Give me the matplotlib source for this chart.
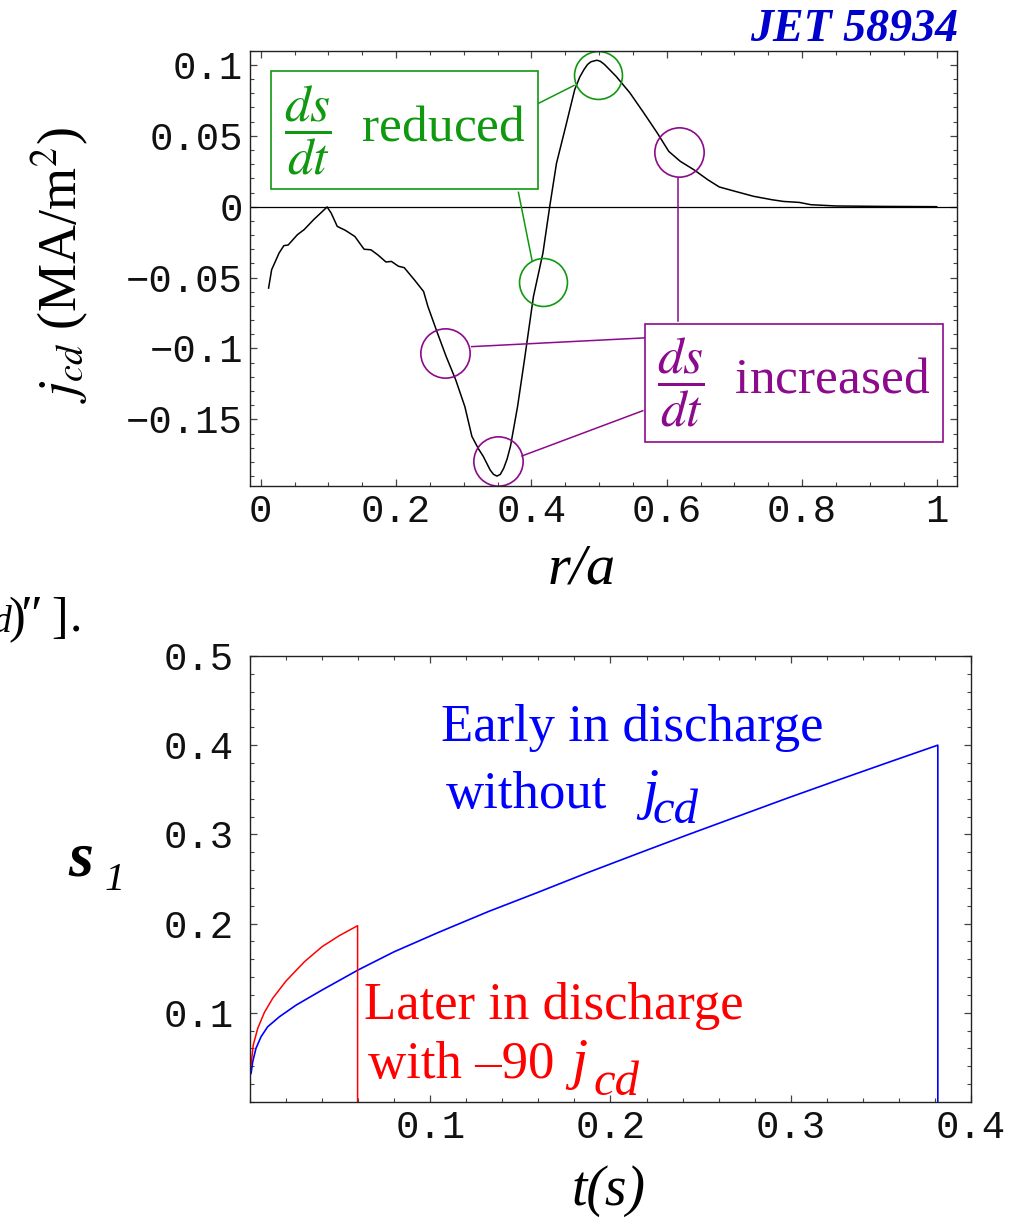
import numpy as np
import matplotlib
matplotlib.use("Agg")
import matplotlib.pyplot as plt
from matplotlib.ticker import FixedLocator, MultipleLocator

plt.rcParams['mathtext.fontset'] = 'stix'
plt.rcParams['font.family'] = ['Liberation Serif', 'DejaVu Serif']

# ---- top panel: j_cd profile vs r/a (JET 58934) ----
r_a = [0.0115, 0.016, 0.027, 0.034, 0.0405, 0.054, 0.064, 0.078, 0.098, 0.104,
       0.113, 0.125, 0.139, 0.1526, 0.1627, 0.173, 0.185, 0.193, 0.2034, 0.212,
       0.227, 0.2406, 0.247, 0.261, 0.274, 0.288, 0.3016, 0.312, 0.322, 0.3287,
       0.339, 0.344, 0.349, 0.354, 0.359, 0.364, 0.369, 0.3795, 0.3897, 0.403,
       0.417, 0.427, 0.437, 0.4507, 0.464, 0.4715, 0.4778, 0.483, 0.488, 0.4968,
       0.502, 0.508, 0.525, 0.5455, 0.566, 0.586, 0.603, 0.620, 0.640, 0.6607,
       0.6777, 0.7013, 0.7285, 0.7556, 0.7725, 0.796, 0.813, 0.850, 0.918, 0.999]
j_cd = [-0.0574, -0.0445, -0.0327, -0.0275, -0.027, -0.0198, -0.0162, -0.0092, -0.0002, -0.0045,
        -0.0139, -0.0167, -0.021, -0.030, -0.0304, -0.034, -0.039, -0.0386, -0.042, -0.043,
        -0.0516, -0.0598, -0.0704, -0.089, -0.1057, -0.122, -0.141, -0.162, -0.171, -0.176,
        -0.1857, -0.1888, -0.190, -0.1888, -0.1845, -0.178, -0.169, -0.141, -0.108, -0.0633,
        -0.0327, 0.0, 0.0305, 0.0567, 0.0826, 0.0915, 0.0968, 0.1003, 0.1022, 0.1033,
        0.1025, 0.1003, 0.092, 0.0803, 0.0662, 0.052, 0.039, 0.032, 0.0261, 0.019,
        0.0139, 0.0108, 0.0073, 0.0049, 0.0037, 0.003, 0.0014, 0.0005, 0.0002, 0.0]

top_xticks = [0, 0.2, 0.4, 0.6, 0.8, 1.0]
top_xlabels = ['0', '0.2', '0.4', '0.6', '0.8', '1']
top_yticks = [-0.15, -0.1, -0.05, 0, 0.05, 0.1]
top_ylabels = ['\u22120.15', '\u22120.1', '\u22120.05', '0', '0.05', '0.1']

# annotation circles (r/a, j_cd)
green_circles_x = [0.498, 0.4174]
green_circles_y = [0.0932, -0.053]
purple_circles_x = [0.6186, 0.2724, 0.3511]
purple_circles_y = [0.0383, -0.1033, -0.1794]

# ---- bottom panel: s1 vs t ----
t_early = [0.0006, 0.0015, 0.0033, 0.0061, 0.0098, 0.0163, 0.0256, 0.040, 0.060, 0.080,
           0.1047, 0.1323, 0.1599, 0.1875, 0.2152, 0.2428, 0.2704, 0.298, 0.3256, 0.3536,
           0.3816, 0.3816]
s1_early = [0.032, 0.045, 0.060, 0.073, 0.0843, 0.0955, 0.1086, 0.1255, 0.148, 0.1684,
            0.1902, 0.2135, 0.2351, 0.2572, 0.2785, 0.2995, 0.320, 0.3405, 0.3604, 0.3803,
            0.400, 0.0]
t_late = [0.0006, 0.0018, 0.0043, 0.0080, 0.0126, 0.020, 0.0302, 0.040, 0.0496, 0.0597,
          0.0597]
s1_late = [0.0413, 0.0637, 0.0825, 0.1004, 0.1162, 0.1356, 0.1572, 0.1741, 0.1865, 0.1976,
           0.0]

bot_xticks = [0.1, 0.2, 0.3, 0.4]
bot_xlabels = ['0.1', '0.2', '0.3', '0.4']
bot_yticks = [0.1, 0.2, 0.3, 0.4, 0.5]
bot_ylabels = ['0.1', '0.2', '0.3', '0.4', '0.5']

GREEN = '#109810'
PURPLE = '#8c0a8c'
mono = ['Liberation Mono', 'DejaVu Sans Mono']


def style_axes(ax, pad_x, pad_y):
    ax.tick_params(which='both', direction='in', top=True, right=True, color='#444444')
    ax.tick_params(which='major', length=5, width=0.9)
    ax.tick_params(which='minor', length=2.8, width=0.8)
    ax.tick_params(axis='x', pad=pad_x)
    ax.tick_params(axis='y', pad=pad_y)
    for s in ax.spines.values():
        s.set_linewidth(1.0)
        s.set_color('#222222')
    for lab in ax.get_xticklabels() + ax.get_yticklabels():
        lab.set_family(mono)
        lab.set_fontsize(28)
        lab.set_color('#111111')


fig = plt.figure(figsize=(10.3, 12.19), dpi=100)

# top
ax1 = fig.add_axes([0.2427, 0.6013, 0.6864, 0.3571])
ax1.plot(r_a, j_cd, color='black', lw=1.1)
ax1.axhline(0, color='black', lw=0.9)
ax1.set_xlim(-0.016, 1.029)
ax1.set_ylim(-0.197, 0.110)
ax1.xaxis.set_major_locator(FixedLocator(top_xticks))
ax1.set_xticklabels(top_xlabels)
ax1.xaxis.set_minor_locator(MultipleLocator(0.05))
ax1.yaxis.set_major_locator(FixedLocator(top_yticks))
ax1.set_yticklabels(top_ylabels)
ax1.yaxis.set_minor_locator(MultipleLocator(0.01))
style_axes(ax1, 6, 5)

ax1.plot(green_circles_x, green_circles_y, 'o', ms=34.5, mfc='none', mec=GREEN, mew=1.2, ls='none')
ax1.plot(purple_circles_x, purple_circles_y, 'o', ms=35.5, mfc='none', mec=PURPLE, mew=1.2, ls='none')

# connector lines
ax1.plot([0.4068, 0.463], [0.0720, 0.0855], color=GREEN, lw=1.1)
ax1.plot([0.3808, 0.4012], [0.0101, -0.0386], color=GREEN, lw=1.1)
ax1.plot([0.6172, 0.6172], [0.0203, -0.0803], color=PURPLE, lw=1.1)
ax1.plot([0.3117, 0.5685], [-0.0987, -0.0925], color=PURPLE, lw=1.1)
ax1.plot([0.3861, 0.5646], [-0.1758, -0.1439], color=PURPLE, lw=1.1)

ax1.text(0.034, 0.054, r'$\dfrac{ds}{dt}$  reduced', color=GREEN, fontsize=37,
         ha='left', va='center',
         bbox=dict(boxstyle='square,pad=0.24', fc='white', ec=GREEN, lw=1.2))
ax1.text(0.586, -0.1243, r'$\dfrac{ds}{dt}$  increased', color=PURPLE, fontsize=37,
         ha='left', va='center',
         bbox=dict(boxstyle='square,pad=0.24', fc='white', ec=PURPLE, lw=1.2))

fig.text(958 / 1030, 1 - 41 / 1219, 'JET 58934', color='#0000cc', fontsize=33,
         fontweight='bold', fontstyle='italic', ha='right', va='baseline')
fig.text(60 / 1030, 1 - 265 / 1219, r'$j_{cd}$ (MA/m$^2$)', fontsize=39,
         rotation=90, ha='center', va='center')
fig.text(582 / 1030, 1 - 583 / 1219, 'r/a', fontsize=42, fontstyle='italic',
         ha='center', va='baseline')

# clipped fragment of page text
fy = 1 - 632 / 1219
fig.text(-7 / 1030, fy, 'd', fontsize=27, fontstyle='italic', va='baseline')
fig.text(8 / 1030, fy, ')', fontsize=36, va='baseline')
fig.text(20 / 1030, fy, '\u2033', fontsize=38, va='baseline')
fig.text(51 / 1030, fy, ']', fontsize=36, va='baseline')
fig.text(70 / 1030, fy, '.', fontsize=36, va='baseline')

# bottom
ax2 = fig.add_axes([0.2427, 0.0960, 0.7000, 0.3659])
ax2.plot(t_early, s1_early, color='#0000ff', lw=1.2)
ax2.plot(t_late, s1_late, color='#ff0000', lw=1.1)
ax2.set_xlim(0, 0.4)
ax2.set_ylim(0, 0.5)
ax2.xaxis.set_major_locator(FixedLocator(bot_xticks))
ax2.set_xticklabels(bot_xlabels)
ax2.xaxis.set_minor_locator(MultipleLocator(0.02))
ax2.yaxis.set_major_locator(FixedLocator(bot_yticks))
ax2.set_yticklabels(bot_ylabels)
ax2.yaxis.set_minor_locator(MultipleLocator(0.02))
style_axes(ax2, 6, 12)

ax2.text(0.1061, 0.4042, 'Early in discharge', color='#0000ff', fontsize=38, va='baseline')
ax2.text(0.1089, 0.3294, 'without', color='#0000ff', fontsize=38, va='baseline')
ax2.text(0.2179, 0.3294, 'j', color='#0000ff', fontsize=42, fontstyle='italic', va='baseline')
ax2.text(0.2235, 0.3122, 'cd', color='#0000ff', fontsize=35, fontstyle='italic', va='baseline')

ax2.text(0.0633, 0.0929, 'Later in discharge', color='#ff0000', fontsize=38, va='baseline')
ax2.text(0.0655, 0.0264, 'with \u201390', color='#ff0000', fontsize=38, va='baseline')
ax2.text(0.178, 0.0264, 'j', color='#ff0000', fontsize=42, fontstyle='italic', va='baseline')
ax2.text(0.1907, 0.0076, 'cd', color='#ff0000', fontsize=35, fontstyle='italic', va='baseline')

fig.text(68 / 1030, 1 - 875 / 1219, 's', fontsize=46, fontweight='bold',
         fontstyle='italic', va='baseline')
fig.text(105 / 1030, 1 - 890 / 1219, '1', fontsize=29, fontstyle='italic', va='baseline')
fig.text(608.5 / 1030, 1 - 1205 / 1219, 't(s)', fontsize=40, fontstyle='italic',
         ha='center', va='baseline')

fig.savefig('out.png', dpi=100)
